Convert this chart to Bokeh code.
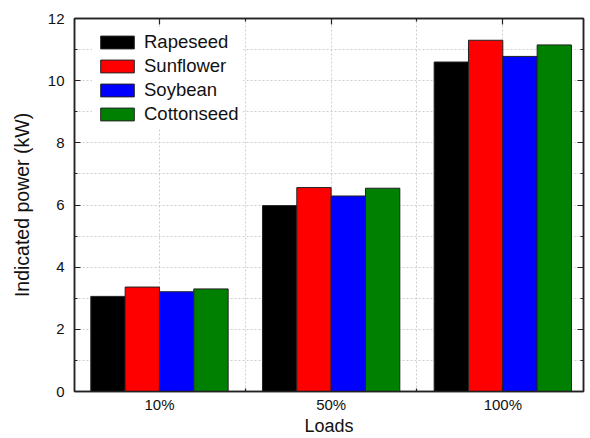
from bokeh.plotting import figure
from bokeh.models import ColumnDataSource, FixedTicker, LinearAxis, Range1d, Legend, LegendItem
from bokeh.transform import dodge
from bokeh.embed import file_html
from bokeh.resources import INLINE

# ---- data ----
loads = ["10%", "50%", "100%"]
series_names = ["Rapeseed", "Sunflower", "Soybean", "Cottonseed"]
rapeseed = [3.06, 5.98, 10.60]
sunflower = [3.36, 6.56, 11.30]
soybean = [3.21, 6.29, 10.78]
cottonseed = [3.30, 6.54, 11.15]
y_ticks = [0, 2, 4, 6, 8, 10, 12]
y_minor = [1, 3, 5, 7, 9, 11]
x_title = "Loads"
y_title = "Indicated power (kW)"

colors = ["#000000", "#ff0000", "#0000ff", "#008000"]
offsets = [-0.3, -0.1, 0.1, 0.3]
FONT = "Liberation Sans"

x_pos = list(range(1, len(loads) + 1))
src = ColumnDataSource(dict(x=x_pos, Rapeseed=rapeseed, Sunflower=sunflower,
                            Soybean=soybean, Cottonseed=cottonseed))

X0, X1 = 0.505, 3.47
p = figure(width=590, height=438, x_range=Range1d(X0, X1), y_range=Range1d(0, 12),
           output_backend="svg", toolbar_location=None,
           min_border_left=74, min_border_right=7, min_border_top=18, min_border_bottom=41)
p.background_fill_color = "white"
p.border_fill_color = "white"
p.outline_line_color = "#222222"
p.outline_line_width = 1.5

items = []
for name, col, off in zip(series_names, colors, offsets):
    r = p.vbar(x=dodge("x", off), top=name, width=0.2, source=src,
               fill_color=col, line_color="#222222", line_width=1)
    items.append(LegendItem(label=name, renderers=[r]))

xticker = FixedTicker(ticks=x_pos, minor_ticks=[x + 0.5 for x in x_pos[:-1]])
yticker = FixedTicker(ticks=y_ticks, minor_ticks=y_minor)

def style_axis(ax, labels=True):
    ax.axis_line_color = "#222222"
    ax.axis_line_width = 1.5
    ax.major_tick_in = 6
    ax.major_tick_out = 0
    ax.minor_tick_in = 3
    ax.minor_tick_out = 0
    ax.major_tick_line_color = "#222222"
    ax.minor_tick_line_color = "#222222"
    ax.major_tick_line_width = 1.2
    ax.minor_tick_line_width = 1.2
    ax.major_label_text_font = FONT
    ax.major_label_text_color = "#111111"
    ax.axis_label_text_font = FONT
    ax.axis_label_text_font_style = "normal"
    ax.axis_label_text_color = "#111111"
    if not labels:
        ax.major_label_text_font_size = "0px"
        ax.major_label_standoff = 0

xa = p.xaxis[0]
xa.ticker = xticker
xa.major_label_overrides = {x: lab for x, lab in zip(x_pos, loads)}
style_axis(xa)
xa.major_label_text_font_size = "15px"
xa.major_label_standoff = 4
xa.axis_label = x_title
xa.axis_label_text_font_size = "18px"
xa.axis_label_standoff = 0

ya = p.yaxis[0]
ya.ticker = yticker
style_axis(ya)
ya.major_label_text_font_size = "15px"
ya.major_label_standoff = 10
ya.axis_label = y_title
ya.axis_label_text_font_size = "19.5px"
ya.axis_label_standoff = 12

top = LinearAxis(ticker=xticker)
style_axis(top, labels=False)
p.add_layout(top, "above")
right = LinearAxis(ticker=yticker)
style_axis(right, labels=False)
p.add_layout(right, "right")

for g, t in ((p.xgrid[0], xticker), (p.ygrid[0], yticker)):
    g.ticker = t
    g.grid_line_color = "#cfcfcf"
    g.grid_line_dash = "2 2"
    g.grid_line_width = 1
    g.minor_grid_line_color = "#cfcfcf"
    g.minor_grid_line_dash = "2 2"
    g.minor_grid_line_width = 1

legend = Legend(items=items, location=(18, 262))
legend.glyph_width = 42
legend.glyph_height = 16
legend.label_height = 16
legend.spacing = 2
legend.padding = 4
legend.margin = 0
legend.label_standoff = 6
legend.label_text_font = FONT
legend.label_text_font_size = "18.5px"
legend.label_text_color = "#111111"
legend.border_line_alpha = 0
legend.background_fill_color = "white"
legend.background_fill_alpha = 1
p.add_layout(legend)

open("out.html", "w").write(file_html(p, INLINE))
